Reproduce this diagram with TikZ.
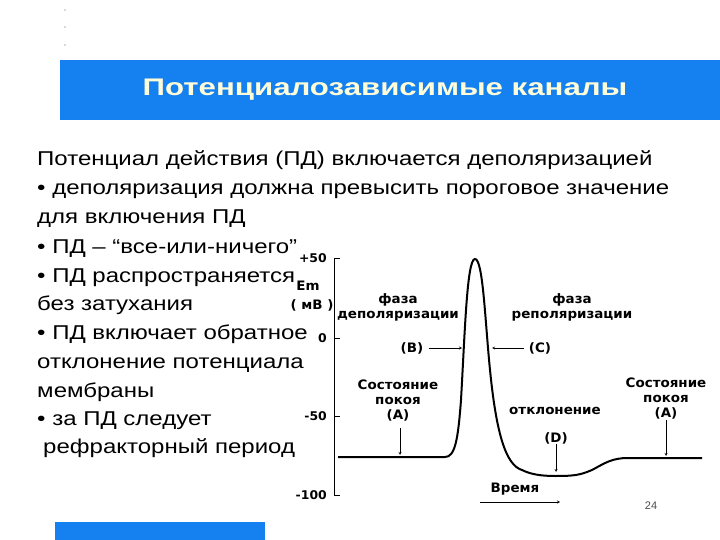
\documentclass[tikz,border=0pt]{standalone}
\usepackage{fontspec}
\setmainfont{Liberation Sans}
\newfontfamily\gf{DejaVu Sans Condensed}
\begin{document}
\begin{tikzpicture}[x=1pt,y=-1pt,
  body/.style={anchor=base west,inner sep=0,font=\fontsize{20}{22}\selectfont,xscale=1.2},
  gl/.style={inner sep=0,font=\gf\bfseries\fontsize{13}{15}\selectfont,align=center,xscale=1.15},
  ax/.style={inner sep=0,anchor=east,font=\gf\bfseries\fontsize{12}{12}\selectfont,xscale=1.15},
  arr/.style={->,>=stealth,thin}]
\useasboundingbox (0,0) rectangle (720,540);
\definecolor{bl}{RGB}{21,128,240}
\fill[bl] (60,60) rectangle (720,120);
\fill[bl] (55,522) rectangle (265,540);
\foreach \y in {10,27,45} \fill[gray!40] (65,\y) circle (1.2);
\node[inner sep=0,font=\bfseries\fontsize{24}{26}\selectfont,text=yellow!15,xscale=1.3] (title) at (385,90) {Потенциалозависимые каналы};
\node[body] (l1) at (37,166) {Потенциал действия (ПД) включается деполяризацией};
\node[body] (l2) at (37,195) {• деполяризация должна превысить пороговое значение};
\node[body] (l3) at (37,224) {для включения ПД};
\node[body] (l4) at (37,253) {• ПД – “все-или-ничего”};
\node[body] (l5) at (37,282) {• ПД распространяется};
\node[body] (l6) at (37,310) {без затухания};
\node[body] (l7) at (37,339) {• ПД включает обратное};
\node[body] (l8) at (37,368) {отклонение потенциала};
\node[body] (l9) at (37,397) {мембраны};
\node[body] (l10) at (37,425) {• за ПД следует};
\node[body] (l11) at (43,453) {рефракторный период};
% axis
\draw[thick] (334,258) -- (334,495);
\foreach \yy/\t in {258/+50,338/0,416/-50,495/-100}{
  \draw[thick] (334,\yy) -- (340,\yy);
  \node[ax] at (327,\yy) {\t};}
\node[gl] (em) at (308,286) {Em};
\node[gl] (mv) at (312,305) {( мВ )};
% curve
\draw[line width=2pt] (338,457) -- (445,457)
  .. controls (455,457) and (458,440) .. (461,400)
  .. controls (465,330) and (467,259) .. (475,259)
  .. controls (483,259) and (485,320) .. (490,370)
  .. controls (496,430) and (505,465) .. (522,470)
  .. controls (530,474) and (540,476) .. (555,476)
  .. controls (575,476) and (580,475) .. (592,470)
  .. controls (605,463) and (612,458) .. (628,458)
  -- (702,458);
\node[gl] (fd) at (398,307) {фаза\\деполяризации};
\node[gl] (fr) at (572,307) {фаза\\реполяризации};
\node[gl] (b) at (412,348) {(B)};
\coordinate (bt) at (462,348);
\draw[arr] (b.east) ++(5,0) -- (bt);
\node[gl] (c) at (540,348) {(C)};
\coordinate (ct) at (492,348);
\draw[arr] (c.west) ++(-5,0) -- (ct);
\node[gl] (sa) at (398,401) {Состояние\\покоя\\(A)};
\coordinate (sat) at (400,455);
\draw[arr] (400,428) -- (sat);
\node[gl] (ot) at (555,411) {отклонение};
\node[gl] (d) at (556,438) {(D)};
\coordinate (dt) at (556,472);
\draw[arr] (d.south) -- (dt);
\node[gl] (sb) at (666,399) {Состояние\\покоя\\(A)};
\coordinate (sbt) at (666,456);
\draw[arr] (sb.south) -- (sbt);
\node[gl] (vr) at (515,489) {Время};
\coordinate (v1) at (480,502);
\coordinate (v2) at (560,502);
\draw[arr] (v1) -- (v2);
\node[inner sep=0,font=\fontsize{11}{12}\selectfont,text=black!70] (n24) at (651,506) {24};
\end{tikzpicture}
\end{document}
